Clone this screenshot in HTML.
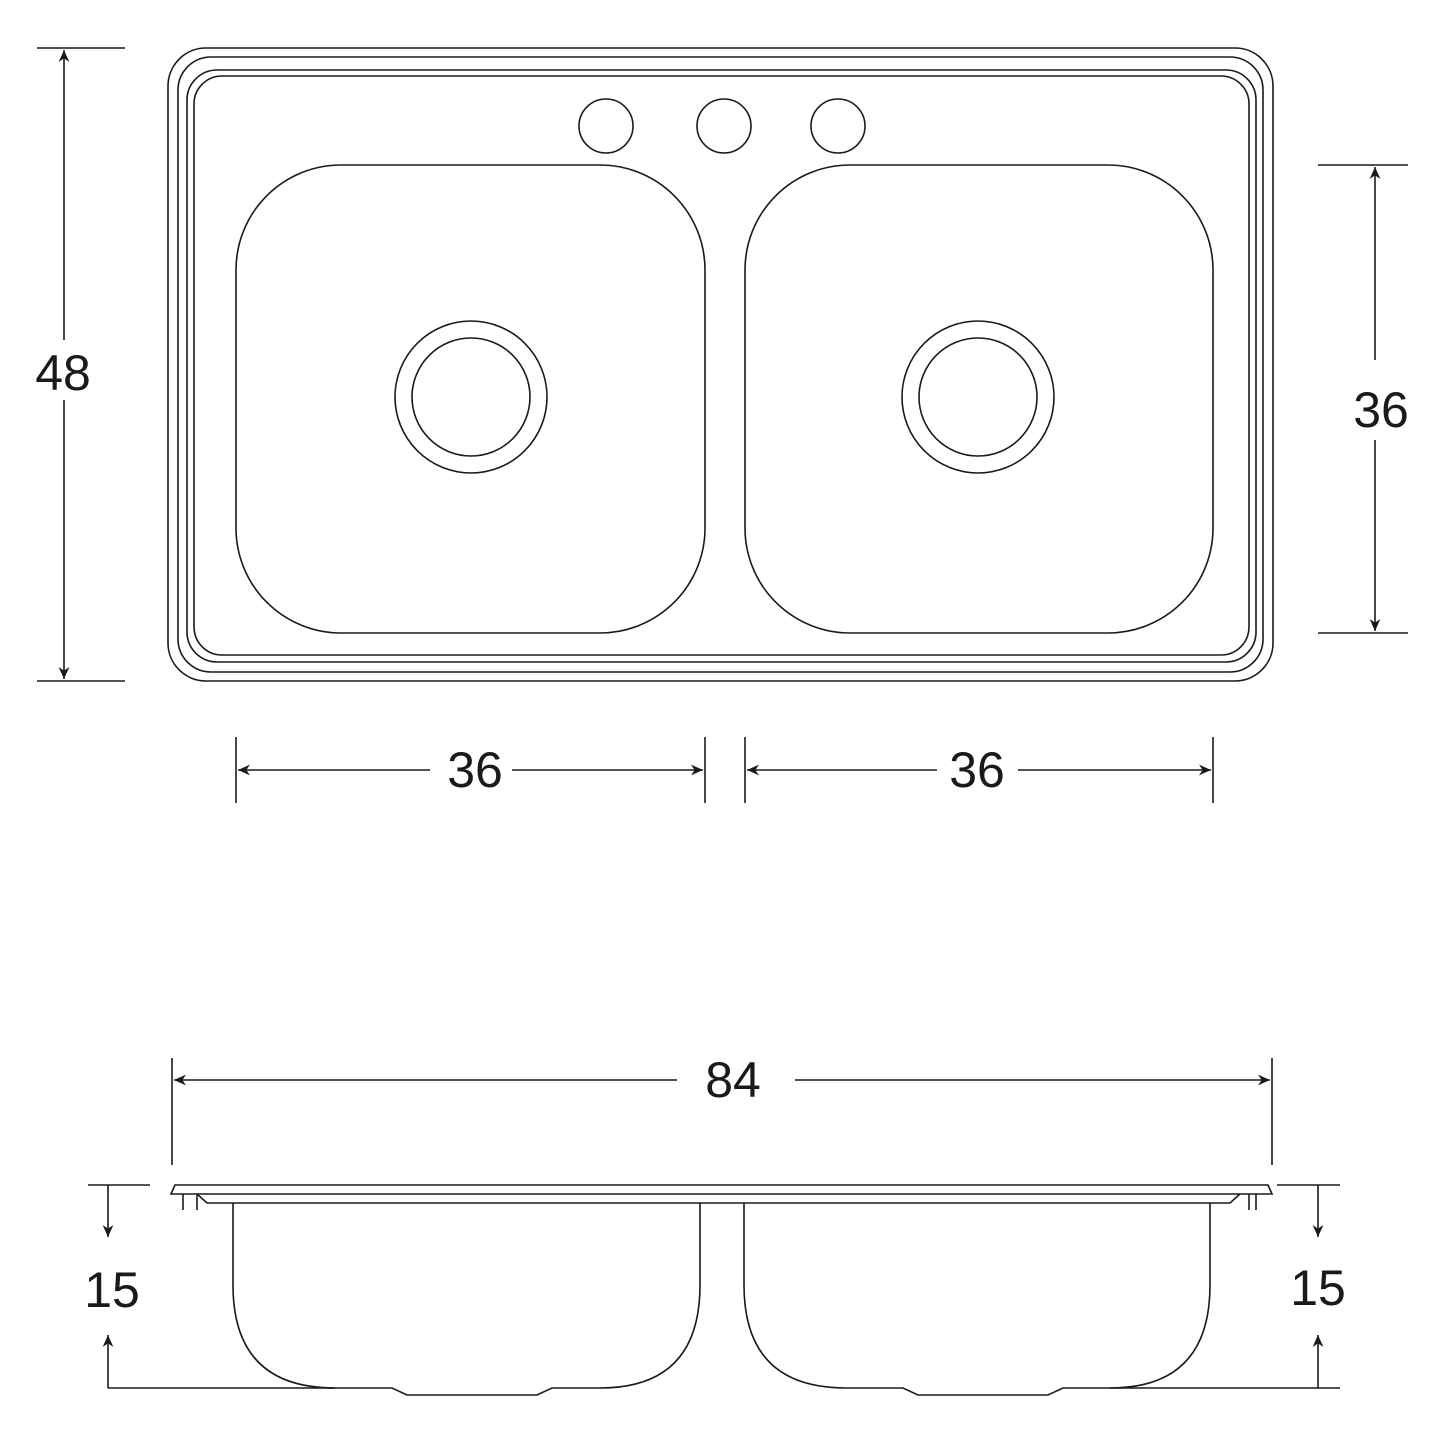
<!DOCTYPE html>
<html><head><style>
html,body{margin:0;padding:0;background:#fff;}
svg{display:block;}
text{font-family:"Liberation Sans",sans-serif;font-size:50px;fill:#1a1a1a;text-anchor:middle;dominant-baseline:central;}
</style></head><body>
<svg width="1445" height="1445" viewBox="0 0 1445 1445" xmlns="http://www.w3.org/2000/svg">
<defs>
<marker id="a" viewBox="0 0 10 10" refX="10" refY="5" markerWidth="14" markerHeight="12" markerUnits="userSpaceOnUse" orient="auto-start-reverse">
<path d="M0,0.5 L10,5 L0,9.5 L3,5 Z" fill="#1a1a1a"/></marker>
</defs>
<g fill="none" stroke="#1a1a1a" stroke-width="1.6">
<rect x="168" y="48" width="1105" height="633" rx="38"/>
<rect x="178" y="57" width="1085" height="615" rx="33"/>
<rect x="187" y="70" width="1069" height="592" rx="30"/>
<rect x="194" y="76" width="1055" height="579" rx="28"/>
<rect x="236" y="165" width="469" height="468" rx="105"/>
<rect x="745" y="165" width="468" height="468" rx="105"/>
<circle cx="471" cy="397" r="76"/><circle cx="471" cy="397" r="59"/>
<circle cx="978" cy="397" r="76"/><circle cx="978" cy="397" r="59"/>
<circle cx="606" cy="126" r="27"/><circle cx="724" cy="126" r="27"/><circle cx="838" cy="126" r="27"/>
<line x1="37" y1="48" x2="125" y2="48"/><line x1="37" y1="681" x2="125" y2="681"/>
<line x1="64" y1="50" x2="64" y2="340" marker-start="url(#a)"/>
<line x1="64" y1="400" x2="64" y2="679" marker-end="url(#a)"/>
<line x1="1318" y1="165" x2="1408" y2="165"/><line x1="1318" y1="633" x2="1408" y2="633"/>
<line x1="1375" y1="167" x2="1375" y2="360" marker-start="url(#a)"/>
<line x1="1375" y1="440" x2="1375" y2="631" marker-end="url(#a)"/>
<line x1="236" y1="737" x2="236" y2="803"/><line x1="705" y1="737" x2="705" y2="803"/>
<line x1="745" y1="737" x2="745" y2="803"/><line x1="1213" y1="737" x2="1213" y2="803"/>
<line x1="238" y1="770" x2="430" y2="770" marker-start="url(#a)"/>
<line x1="512" y1="770" x2="703" y2="770" marker-end="url(#a)"/>
<line x1="747" y1="770" x2="937" y2="770" marker-start="url(#a)"/>
<line x1="1018" y1="770" x2="1211" y2="770" marker-end="url(#a)"/>
<line x1="172" y1="1058" x2="172" y2="1165"/><line x1="1272" y1="1058" x2="1272" y2="1165"/>
<line x1="174" y1="1080" x2="677" y2="1080" marker-start="url(#a)"/>
<line x1="795" y1="1080" x2="1270" y2="1080" marker-end="url(#a)"/>
<path d="M171,1194 L175,1185 L1268,1185 L1272,1194 Z"/>
<path d="M197,1194 L207,1203 L1230,1203 L1240,1194"/>
<line x1="183" y1="1194" x2="183" y2="1210"/><line x1="197" y1="1194" x2="197" y2="1210"/>
<line x1="1249" y1="1194" x2="1249" y2="1210"/><line x1="1256" y1="1194" x2="1256" y2="1210"/>
<path d="M233,1203 L233,1285 Q233,1388 335,1388 L392,1388 L407,1395 L537,1395 L552,1388 L600,1388 Q700,1388 700,1285 L700,1203"/>
<path d="M744,1203 L744,1285 Q744,1388 846,1388 L903,1388 L918,1395 L1048,1395 L1063,1388 L1110,1388 Q1210,1388 1210,1285 L1210,1203"/>
<line x1="108" y1="1388" x2="335" y2="1388"/><line x1="1110" y1="1388" x2="1340" y2="1388"/>
<line x1="88" y1="1185" x2="150" y2="1185"/><line x1="1277" y1="1185" x2="1340" y2="1185"/>
<line x1="108" y1="1185" x2="108" y2="1237" marker-end="url(#a)"/>
<line x1="108" y1="1388" x2="108" y2="1335" marker-end="url(#a)"/>
<line x1="1318" y1="1185" x2="1318" y2="1237" marker-end="url(#a)"/>
<line x1="1318" y1="1388" x2="1318" y2="1335" marker-end="url(#a)"/>
</g>
<text x="63" y="373">48</text>
<text x="1381" y="410">36</text>
<text x="475" y="770">36</text>
<text x="977" y="770">36</text>
<text x="733" y="1080">84</text>
<text x="112" y="1290">15</text>
<text x="1318" y="1288">15</text>
</svg>
</body></html>
